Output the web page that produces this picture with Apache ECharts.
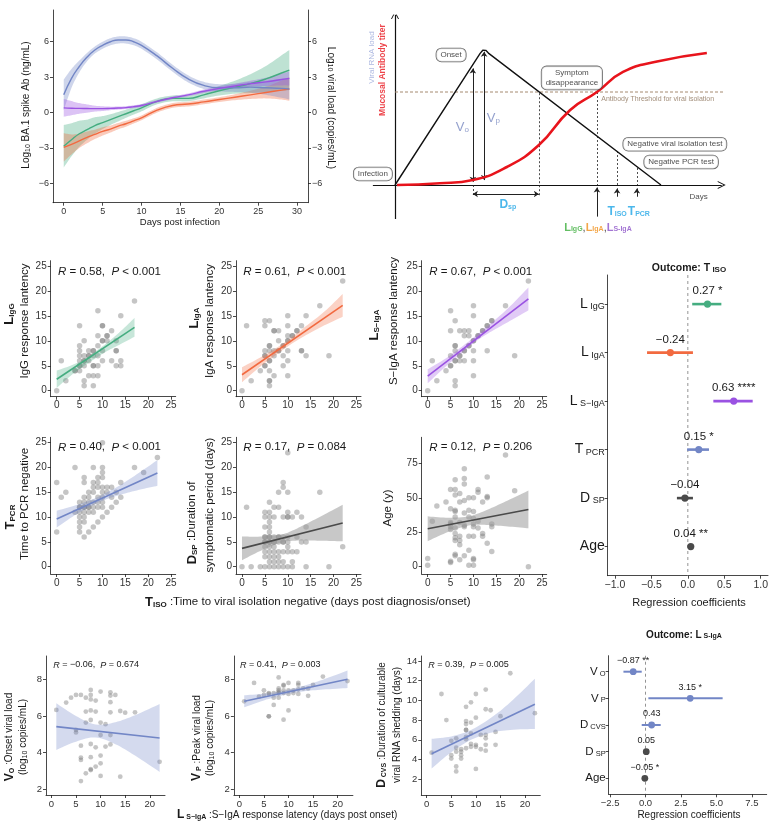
<!DOCTYPE html>
<html>
<head>
<meta charset="utf-8">
<title>Figure</title>
<script src="https://cdn.jsdelivr.net/npm/echarts@6.0.0/dist/echarts.min.js"></script>
<style>
  html, body { margin: 0; padding: 0; background: #fff; }
  #chart { width: 771px; height: 824px; }
</style>
</head>
<body>
<div id="chart"></div>
<script>
var FONT = '"Liberation Sans", Arial, Helvetica, sans-serif';

// ---- A: smoothed trajectories (days post infection)
var daysA   = [0,1,2,3,4,5,6,7,8,9,10,12,14,16,18,20,22,24,26,28,29];
var blueA   = [1.5,2.9,3.9,4.7,5.3,5.7,6.0,6.15,6.15,6.0,5.7,4.8,3.75,2.85,2.3,2.1,2.1,2.15,2.1,2.05,2.0];
var blueSE  = [1.3,0.8,0.5,0.35,0.3,0.3,0.3,0.3,0.3,0.3,0.3,0.3,0.3,0.3,0.3,0.3,0.35,0.45,0.6,0.8,0.9];
var purpA   = [0.4,0.37,0.35,0.34,0.33,0.33,0.35,0.38,0.42,0.5,0.6,0.95,1.25,1.5,1.8,2.05,2.25,2.45,2.6,2.8,2.9];
var purpSE  = [0.75,0.6,0.45,0.35,0.25,0.2,0.15,0.13,0.12,0.12,0.12,0.12,0.12,0.12,0.15,0.17,0.2,0.25,0.35,0.5,0.6];
var greenA  = [-2.85,-2.3,-1.8,-1.45,-1.1,-0.85,-0.6,-0.35,-0.1,0.15,0.4,0.95,1.2,1.2,1.5,1.85,2.15,2.45,2.85,3.35,3.6];
var greenSE = [1.8,1.4,1.1,0.85,0.7,0.55,0.45,0.4,0.35,0.32,0.3,0.25,0.25,0.25,0.3,0.4,0.55,0.8,1.1,1.5,1.7];
var orngA   = [-2.95,-2.7,-2.4,-2.1,-1.85,-1.6,-1.4,-1.15,-0.95,-0.7,-0.45,0.2,0.6,0.72,0.9,1.1,1.3,1.5,1.7,1.9,2.0];
var orngSE  = [1.2,0.85,0.6,0.5,0.4,0.35,0.3,0.27,0.25,0.22,0.2,0.2,0.2,0.2,0.2,0.2,0.25,0.35,0.5,0.8,1.0];

// ---- B: schematic (arbitrary units)
var bViral     = [[0,0],[25.8,77.4],[26.6,79.3],[27.5,79.2],[28.3,77.6],[80.6,0]];
var bAntibody  = [[0.6,0],[13.6,1.0],[23.6,3.0],[33.9,10.6],[43.6,23.5],[53,44],[61.2,54.7],[69.1,66.5],[79.4,72.6],[94.5,77.6]];
var bThreshold = 54.7;
var bGuides = [[[23.6,0],[23.6,-7]],[[43.6,54],[43.6,-7]],[[61.2,54.7],[61.2,0]],[[67.3,20],[67.3,0]],[[73.3,10],[73.3,0]]];
var bSpans  = [[[23.6,1.9],[23.6,68.6]],[[27,2.9],[27,78.4]],[[23.6,-5.3],[43.6,-5.3]]];
var bArrows = [[[61.2,-18.6],[61.2,-1.5]],[[67.3,-6.9],[67.3,-2]],[[73.3,-6.9],[73.3,-2]]];

// ---- C: scatter panels vs T_ISO
var ptsIgG = [[0,0],[1,6],[2,2],[4,4],[4,4],[5,13],[5,9],[5,8],[5,7],[5,6],[5,5],[5,5],[5,4],[6,10],[6,7],[6,6],[6,6],[6,5],[6,2],[6,1],
  [7,8],[7,7],[7,7],[7,6],[7,3],[8,8],[8,8],[8,7],[8,5],[8,5],[8,3],[8,1],[9,16],[9,11],[9,9],[9,7],[9,5],[9,3],
  [10,13],[10,13],[10,10],[10,10],[10,8],[10,6],[11,11],[11,11],[11,10],[12,12],[12,6],[13,10],[13,8],[13,8],[13,5],[14,15],[14,6],[14,5],[17,18]];
var ptsIgA = [[0,0],[1,13],[2,2],[4,4],[5,14],[5,13],[5,8],[5,7],[5,7],[5,5],[5,5],[6,14],[6,9],[6,9],[6,8],[6,6],[6,6],[6,4],[6,2],[6,2],[6,1],
  [7,12],[7,12],[7,8],[7,7],[7,3],[8,12],[8,10],[8,8],[8,8],[9,9],[9,9],[9,7],[9,5],[10,15],[10,13],[10,11],[10,10],[10,10],[10,8],[10,6],[10,3],
  [11,11],[11,11],[12,12],[12,12],[13,13],[13,8],[13,8],[14,15],[14,7],[17,17],[19,7],[22,22]];
var ptsSIgA = [[0,0],[1,6],[2,2],[4,4],[5,16],[5,12],[5,7],[5,5],[5,5],[6,14],[6,9],[6,9],[6,8],[6,6],[6,6],[6,2],[6,1],[7,12],[7,7],[7,7],[7,6],
  [8,12],[8,11],[8,8],[8,8],[8,6],[9,12],[9,11],[9,9],[9,9],[10,17],[10,15],[10,10],[10,10],[10,8],[10,6],[10,3],[11,11],[11,11],[12,12],[12,12],
  [13,13],[13,13],[13,8],[14,14],[14,14],[17,17],[19,7],[22,22]];
var ptsPCR = [[0,7],[0,17],[1,14],[2,15],[4,11],[4,20],[5,7],[5,8],[5,9],[5,10],[5,11],[5,12],[5,12],[5,13],
  [6,6],[6,9],[6,10],[6,11],[6,12],[6,12],[6,13],[6,14],[6,17],[6,18],[7,7],[7,11],[7,12],[7,12],[7,13],[7,14],[7,15],
  [8,8],[8,11],[8,12],[8,13],[8,15],[8,16],[8,17],[8,20],[9,9],[9,12],[9,13],[9,14],[9,16],[9,17],[9,18],
  [10,10],[10,12],[10,13],[10,14],[10,15],[10,16],[10,18],[10,19],[10,20],[10,25],[11,11],[11,15],[11,16],
  [12,12],[12,14],[12,16],[13,13],[13,15],[14,14],[14,17],[17,20],[19,19],[22,22]];
var ptsDSP = [[0,0],[1,12],[2,0],[4,0],[5,0],[5,2],[5,3],[5,4],[5,5],[5,5],[5,6],[5,6],[5,8],[5,10],[5,11],
  [6,0],[6,1],[6,2],[6,3],[6,4],[6,5],[6,5],[6,6],[6,6],[6,7],[6,8],[6,9],[6,10],[6,11],[6,13],
  [7,0],[7,1],[7,2],[7,3],[7,4],[7,5],[7,5],[7,6],[7,10],[7,12],[8,0],[8,1],[8,2],[8,3],[8,5],[8,6],[8,6],[8,12],[8,15],
  [9,0],[9,1],[9,3],[9,5],[9,5],[9,6],[9,10],[9,16],[9,17],[10,0],[10,3],[10,4],[10,5],[10,6],[10,10],[10,10],[10,11],[10,15],[10,23],
  [11,0],[11,1],[11,3],[11,10],[12,3],[12,6],[12,11],[13,5],[13,10],[14,0],[14,5],[14,8],[17,15],[19,0],[22,4]];
var ptsAge = [[0,6],[0,1],[1,33],[2,44],[4,47],[5,56],[5,42],[5,32],[5,31],[5,29],[5,27],[5,4],[5,3],
  [6,63],[6,56],[6,52],[6,41],[6,40],[6,36],[6,28],[6,24],[6,21],[6,19],[6,9],[6,8],
  [7,53],[7,47],[7,32],[7,22],[7,19],[7,16],[7,5],[8,71],[8,64],[8,60],[8,48],[8,39],[8,30],[8,29],[8,8],
  [9,50],[9,41],[9,36],[9,22],[9,12],[9,1],[10,50],[10,40],[10,35],[10,31],[10,29],[10,22],[10,6],[10,5],[10,1],
  [11,56],[11,54],[11,33],[11,28],[12,47],[12,24],[12,22],[13,65],[13,51],[13,50],[13,17],[14,31],[14,29],[14,11],
  [17,81],[19,55],[22,0]];

// linear fits and 95% bands
var fitIgG  = {x:[0,17], y:[2.3,12.7], bx:[0,3,6,8.5,11,14,17], lo:[0.55,2.95,5.0,6.5,7.95,9.35,10.8], hi:[4.05,5.0,6.3,7.9,9.6,11.95,14.6]};
var fitIgA  = {x:[0,22], y:[3.2,17.1], bx:[0,4,8,11,14,18,22], lo:[1.7,4.85,7.55,9.5,11.15,13.1,14.8], hi:[4.7,6.65,8.85,10.8,12.95,15.85,19.4]};
var fitSIgA = {x:[0,22], y:[2.9,18.4], bx:[0,4,8,11,14,18,22], lo:[1.5,4.9,8.0,10.2,11.92,14.0,16.1], hi:[4.3,6.5,9.2,11.4,13.62,16.9,20.7]};
var fitPCR  = {x:[0,22], y:[9.6,18.9], bx:[0,4,8,11,14,18,22], lo:[7.9,10.4,12.45,13.65,14.52,15.5,16.3], hi:[11.3,12.35,13.65,15.0,16.52,18.95,21.5]};
var fitDSP  = {x:[0,22], y:[3.7,8.8], bx:[0,4,8.5,11,14,18,22], lo:[1.3,3.19,4.87,5.22,5.28,5.23,5.12], hi:[6.1,6.07,6.47,7.28,8.62,10.53,12.48]};
var fitAge  = {x:[0,22], y:[27.5,41.5], bx:[0,4,8.5,11,14,18,22], lo:[18.5,24.55,29.6,30.4,30.1,29.05,27.8], hi:[36.5,35.55,36.2,38.6,42.7,48.85,55.2]};

var corrC = ['0.58','0.61','0.67','0.40','0.17','0.12'];
var pvalC = ['< 0.001','< 0.001','< 0.001','< 0.001','= 0.084','= 0.206'];

// C forest: outcome T_ISO
var termC = ['L','L','L','T','D','Age'];
var subC  = ['IgG','IgA','S\u2212IgA','PCR','SP',''];
var estC  = [0.27,-0.24,0.63,0.15,-0.04,0.04];
var loC   = [0.06,-0.56,0.35,-0.01,-0.15,0.03];
var hiC   = [0.46,0.07,0.89,0.29,0.07,0.05];
var sigC  = ['*','','****','*','','**'];

// ---- D: scatter panels vs L_S-IgA
var ptsVO = [[1,6.33],[3,6.73],[4,7.0],[5,7.15],[5,5.24],[5,5.1],[6,7.15],[6,4.38],[6,3.73],[6,3.6],[6,2.45],
  [7,7.0],[7,6.24],[7,5.64],[7,2.87],[8,7.42],[8,7.15],[8,6.9],[8,6.3],[8,5.78],[8,4.47],[8,3.75],[8,3.1],[8,3.05],
  [9,6.84],[9,6.24],[9,4.29],[9,3.24],[10,7.33],[10,5.64],[10,4.96],[10,3.84],[10,3.42],[10,2.73],[11,5.55],[11,4.33],
  [12,7.29],[12,7.11],[12,6.75],[12,6.2],[12,4.96],[12,4.45],[13,7.15],[14,6.27],[14,2.69],[15,6.18],[17,6.2],[22,3.5]];
var ptsVP = [[1,6.8],[3,7.8],[4,7.05],[5,7.15],[5,7.4],[6,7.25],[6,7.2],[6,5.98],[6,5.98],[7,7.25],[7,7.0],[7,6.6],
  [8,8.1],[8,7.5],[8,7.4],[8,7.25],[8,7.0],[8,7.3],[9,7.7],[9,7.65],[9,7.4],[9,7.25],[9,5.8],[10,7.8],[10,7.4],[10,7.2],[10,6.3],
  [11,7.4],[11,7.25],[12,7.8],[12,7.7],[12,7.45],[12,7.2],[13,7.5],[14,7.5],[14,7.1],[15,7.7],[17,8.15],[22,7.9]];
var ptsCVS = [[1,4.7],[3,10.65],[4,8.0],[5,5.9],[5,4.45],[5,4.1],[6,6.15],[6,5.2],[6,4.8],[6,3.3],[6,2.8],
  [7,5.05],[7,4.8],[7,4.45],[7,4.1],[8,9.35],[8,7.9],[8,7.6],[8,7.0],[8,7.0],[8,6.3],[8,6.05],[8,5.15],
  [9,9.8],[9,7.75],[9,6.65],[9,5.6],[9,5.3],[10,10.65],[10,8.25],[10,5.5],[10,5.3],[10,3.05],[11,6.5],[11,5.05],
  [12,11.1],[12,9.1],[12,6.5],[12,6.15],[12,5.5],[12,4.9],[13,9.0],[14,6.8],[14,5.5],[15,8.4],[17,12.75],[22,8.7]];
var fitVO  = {x:[1,22], y:[5.42,4.8], bx:[1,5,9,13,17,22], lo:[4.15,4.6,4.83,4.46,3.84,2.95], hi:[6.69,6.0,5.53,5.66,6.04,6.65]};
var fitVP  = {x:[1,22], y:[6.8,8.0], bx:[1,5,9,13,17,22], lo:[6.47,6.85,7.14,7.34,7.44,7.52], hi:[7.13,7.21,7.38,7.64,7.98,8.48]};
var fitCVS = {x:[1,22], y:[4.6,9.6], bx:[1,5,9,13,17,22], lo:[3.1,4.75,6.0,6.71,7.01,7.1], hi:[6.1,6.35,7.0,8.21,9.81,12.2]};
var corrD = ['\u22120.06','0.41','0.39'];
var pvalD = ['= 0.674','= 0.003','= 0.005'];

// D forest: outcome L_S-IgA
var termD = ['V','V','D','D','Age'];
var subD  = ['O','P','CVS','SP',''];
var estD  = [-0.87,3.15,0.43,0.05,-0.05];
var loD   = [-1.56,0.2,-0.27,0.0,-0.09];
var hiD   = [-0.27,5.44,1.07,0.1,-0.01];
var sigD  = ['**','*','','','*'];

var GREEN = '#45ad80', ORANGE = '#f26a40', PURPLE = '#9a52e2', BLUE = '#7286c6', DARK = '#4a4a4a';

function minus(v) { return String(v).replace('-', '\u2212'); }
function fmt1(v) { return minus(Number(v).toFixed(1)); }

function axis(gi, min, max, ticks, fs, fmt, extra) {
  var a = {
    type: 'value', gridIndex: gi, min: min, max: max,
    axisLine: {show: true, onZero: false, lineStyle: {color: '#1a1a1a', width: 0.8}},
    axisTick: {show: true, length: 3, customValues: ticks, lineStyle: {color: '#1a1a1a', width: 0.8}},
    axisLabel: {customValues: ticks, fontSize: fs, color: '#333', fontFamily: FONT, margin: 4, formatter: fmt || minus},
    splitLine: {show: false}
  };
  return Object.assign(a, extra || {});
}
function hidden(gi, min, max) { return {type: 'value', gridIndex: gi, min: min, max: max, show: false}; }

// Catmull-Rom through pixel points, only to draw the band outline smoothly
function spline(pts) {
  var out = [], n = pts.length, steps = 8;
  for (var i = 0; i < n - 1; i++) {
    var p0 = pts[Math.max(i - 1, 0)], p1 = pts[i], p2 = pts[i + 1], p3 = pts[Math.min(i + 2, n - 1)];
    for (var s = 0; s < steps; s++) {
      var t = s / steps, t2 = t * t, t3 = t2 * t;
      out.push([0, 1].map(function (k) {
        return 0.5 * (2 * p1[k] + (-p0[k] + p2[k]) * t + (2 * p0[k] - 5 * p1[k] + 4 * p2[k] - p3[k]) * t2 + (-p0[k] + 3 * p1[k] - 3 * p2[k] + p3[k]) * t3);
      }));
    }
  }
  out.push(pts[n - 1]);
  return out;
}

function band(gi, xs, lo, hi, color, op) {
  return {
    type: 'custom', xAxisIndex: gi, yAxisIndex: gi, silent: true, z: 2,
    data: [[xs[0], lo[0]]],
    renderItem: function (params, api) {
      var up = xs.map(function (x, i) { return api.coord([x, hi[i]]); });
      var dn = xs.map(function (x, i) { return api.coord([x, lo[i]]); });
      var pts = spline(up).concat(spline(dn).reverse());
      return {type: 'polygon', shape: {points: pts}, style: {fill: color, opacity: op}};
    }
  };
}

function trajectory(mean, se, color) {
  var lo = mean.map(function (m, i) { return m - se[i]; });
  var hi = mean.map(function (m, i) { return m + se[i]; });
  return [
    band(0, daysA, lo, hi, color, 0.35),
    {type: 'line', xAxisIndex: 0, yAxisIndex: 0, smooth: true, symbol: 'none', silent: true, z: 4,
     lineStyle: {color: color, width: 1.4}, data: daysA.map(function (d, i) { return [d, mean[i]]; })}
  ];
}

function scatterPanel(gi, pts, fit, color, bandColor, bandOp, size) {
  return [
    {type: 'scatter', xAxisIndex: gi, yAxisIndex: gi, data: pts, symbolSize: size, silent: true, z: 1,
     itemStyle: {color: '#757575', opacity: 0.42}},
    band(gi, fit.bx, fit.lo, fit.hi, bandColor, bandOp),
    {type: 'line', xAxisIndex: gi, yAxisIndex: gi, symbol: 'none', silent: true, z: 4,
     lineStyle: {color: color, width: 1.6}, data: [[fit.x[0], fit.y[0]], [fit.x[1], fit.y[1]]]}
  ];
}

function forest(gi, est, lo, hi, sig, cols, o) {
  return {
    type: 'custom', xAxisIndex: gi, yAxisIndex: gi, silent: true, z: 5,
    data: est.map(function (e, i) { return [e, i, lo[i], hi[i]]; }),
    encode: {x: [0, 2, 3], y: 1},
    renderItem: function (params, api) {
      var i = params.dataIndex;
      var p = api.coord([api.value(0), api.value(1)]);
      var a = api.coord([api.value(2), api.value(1)]);
      var b = api.coord([api.value(3), api.value(1)]);
      var txt = minus(est[i].toFixed(2)) + (sig[i] ? ' ' + sig[i] : '');
      return {type: 'group', children: [
        {type: 'line', shape: {x1: a[0], y1: a[1], x2: b[0], y2: b[1]}, style: {stroke: cols[i], lineWidth: o.lw}},
        {type: 'circle', shape: {cx: p[0], cy: p[1], r: o.r}, style: {fill: cols[i]}},
        {type: 'text', x: p[0], y: p[1] - o.dy, style: {text: txt, fill: '#1a1a1a', fontSize: o.fs, fontFamily: FONT, align: 'center', verticalAlign: 'middle'}}
      ]};
    }
  };
}

function zeroLine(gi, y0, y1) {
  return {type: 'line', xAxisIndex: gi, yAxisIndex: gi, symbol: 'none', silent: true, z: 3,
    lineStyle: {color: '#888', width: 0.9, type: [3, 3]}, data: [[0, y0], [0, y1]]};
}

// ---- graphic text helper (zrender style)
function richSet(fs, c) {
  return {
    b:  {fontSize: Math.round(fs * 1.15), fontWeight: 'bold', fill: c, fontFamily: FONT},
    bs: {fontSize: Math.round(fs * 0.72), fontWeight: 'bold', fill: c, fontFamily: FONT, verticalAlign: 'bottom'},
    s:  {fontSize: Math.round(fs * 0.72), fill: c, fontFamily: FONT, verticalAlign: 'bottom'},
    i:  {fontSize: fs, fontStyle: 'italic', fill: c, fontFamily: FONT},
    n:  {fontSize: fs, fill: c, fontFamily: FONT}
  };
}
function T(x, y, text, fs, o) {
  o = o || {};
  var c = o.color || '#1a1a1a';
  return {type: 'text', x: x, y: y, rotation: o.rot || 0, silent: true, z: 100,
    style: {text: text, fill: c, fontSize: fs, fontFamily: FONT, fontWeight: o.bold ? 'bold' : 'normal',
            align: o.align || 'center', verticalAlign: 'middle', rich: richSet(fs, c)}};
}
var UP = Math.PI / 2;

var grids = [
  {left: 53, top: 10, width: 255, height: 192.7},
  {left: 362, top: 15, width: 379.5, height: 221},
  {left: 50.7, top: 260.7, width: 125, height: 136},
  {left: 236, top: 260.7, width: 125, height: 136},
  {left: 421.7, top: 260.7, width: 125, height: 136},
  {left: 50.7, top: 437.3, width: 125, height: 136.7},
  {left: 236, top: 437.3, width: 125, height: 136.7},
  {left: 421.7, top: 437.3, width: 125, height: 136.7},
  {left: 607.7, top: 275, width: 163, height: 300.7},
  {left: 46, top: 656, width: 119, height: 139},
  {left: 233.9, top: 656, width: 119, height: 139},
  {left: 421.3, top: 656, width: 119, height: 139},
  {left: 608.7, top: 655.7, width: 158, height: 138.6}
];

var tC = [0,5,10,15,20,25], tD = [0,5,10,15,20];
var xAxes = [
  axis(0, -1.38, 31.4, [0,5,10,15,20,25,30], 9),
  hidden(1, -10, 105),
  axis(2, -1.31, 26, tC, 10), axis(3, -1.31, 26, tC, 10), axis(4, -1.31, 26, tC, 10),
  axis(5, -1.31, 26, tC, 10), axis(6, -1.31, 26, tC, 10), axis(7, -1.31, 26, tC, 10),
  axis(8, -1.1, 1.1, [-1,-0.5,0,0.5,1], 10.5, fmt1),
  axis(9, -1.1, 23.1, tD, 9.5), axis(10, -1.1, 23.1, tD, 9.5), axis(11, -1.1, 23.1, tD, 9.5),
  axis(12, -2.6, 8.55, [-2.5,0,2.5,5,7.5], 9.5, fmt1)
];

var forestCY = axis(8, -0.6, 5.6, [0,1,2,3,4,5], 14, function (v) {
  return '{l|' + termC[v] + '}' + (subC[v] ? '{s| ' + subC[v] + '}' : '');
}, {inverse: true});
forestCY.axisLabel.rich = {l: {fontSize: 14, color: '#1a1a1a', fontFamily: FONT}, s: {fontSize: 9, color: '#1a1a1a', fontFamily: FONT, verticalAlign: 'bottom'}};
forestCY.axisLabel.margin = 3;
var forestDY = axis(12, -0.6, 4.6, [0,1,2,3,4], 11, function (v) {
  return '{l|' + termD[v] + '}' + (subD[v] ? '{s| ' + subD[v] + '}' : '');
}, {inverse: true});
forestDY.axisLabel.rich = {l: {fontSize: 11.5, color: '#1a1a1a', fontFamily: FONT}, s: {fontSize: 7.5, color: '#1a1a1a', fontFamily: FONT, verticalAlign: 'bottom'}};
forestDY.axisLabel.margin = 3;

var yAxes = [
  axis(0, -7.64, 8.69, [-6,-3,0,3,6], 9),
  hidden(1, -30, 100),
  axis(2, -1.2, 26.05, tC, 10), axis(3, -1.2, 26.05, tC, 10), axis(4, -1.2, 26.05, tC, 10),
  axis(5, -1.47, 26.09, tC, 10), axis(6, -1.47, 26.09, tC, 10),
  axis(7, -5.3, 93.85, [0,25,50,75], 10),
  forestCY,
  axis(9, 1.69, 9.27, [2,4,6,8], 9.5), axis(10, 1.69, 9.27, [2,4,6,8], 9.5),
  axis(11, 0.41, 14.5, [2,4,6,8,10,12,14], 9.5),
  forestDY,
  axis(0, -7.64, 8.69, [-6,-3,0,3,6], 9, null, {position: 'right'})
];

// ---- B schematic series
function bLab(x, y, text, lab) {
  return {value: [x, y], label: Object.assign({show: true, position: 'inside', formatter: text, fontFamily: FONT, color: '#1a1a1a'}, lab)};
}
var boxStyle = {fontSize: 8, lineHeight: 10, backgroundColor: '#fff', borderColor: '#444', borderWidth: 0.8, borderRadius: 5, padding: [2, 4, 1, 4]};
var bRich = {
  v: {fontSize: 13, color: '#7888c0', fontFamily: FONT},
  vs: {fontSize: 8, color: '#7888c0', fontFamily: FONT, verticalAlign: 'bottom'},
  d: {fontSize: 12, color: '#1ea5e6', fontWeight: 'bold', fontFamily: FONT},
  ds: {fontSize: 7, color: '#1ea5e6', fontWeight: 'bold', fontFamily: FONT, verticalAlign: 'bottom'},
  g: {fontSize: 11, color: '#3cae3c', fontWeight: 'bold', fontFamily: FONT},
  gs: {fontSize: 7, color: '#3cae3c', fontWeight: 'bold', fontFamily: FONT, verticalAlign: 'bottom'},
  o: {fontSize: 11, color: '#f0901c', fontWeight: 'bold', fontFamily: FONT},
  os: {fontSize: 7, color: '#f0901c', fontWeight: 'bold', fontFamily: FONT, verticalAlign: 'bottom'},
  p: {fontSize: 11, color: '#8c52c8', fontWeight: 'bold', fontFamily: FONT},
  ps: {fontSize: 7, color: '#8c52c8', fontWeight: 'bold', fontFamily: FONT, verticalAlign: 'bottom'},
  k: {fontSize: 11, color: '#1a1a1a', fontFamily: FONT}
};
var chevron = 'path://M0,10 L5,0 L10,10 L8.8,10 L5,2.6 L1.2,10 Z';

var seriesB = [
  {type: 'lines', coordinateSystem: 'cartesian2d', xAxisIndex: 1, yAxisIndex: 1, silent: true, z: 3,
   symbol: ['none', chevron], symbolSize: [10, 8], lineStyle: {color: '#111', width: 1.2, opacity: 1},
   data: [{coords: [[0,-20],[0,100]]}, {coords: [[-6.7,0],[99,0]]}]},
  {type: 'line', xAxisIndex: 1, yAxisIndex: 1, symbol: 'none', silent: true, z: 3,
   lineStyle: {color: '#a58a70', width: 1, type: [3, 2]}, data: [[0, bThreshold], [100, bThreshold]]},
  {type: 'line', xAxisIndex: 1, yAxisIndex: 1, symbol: 'none', silent: true, z: 4,
   lineStyle: {color: '#111', width: 1.4}, data: bViral},
  {type: 'line', xAxisIndex: 1, yAxisIndex: 1, symbol: 'none', smooth: true, silent: true, z: 4,
   lineStyle: {color: '#e8141c', width: 2.6}, data: bAntibody},
  {type: 'lines', coordinateSystem: 'cartesian2d', xAxisIndex: 1, yAxisIndex: 1, silent: true, z: 3,
   symbol: 'none', lineStyle: {color: '#222', width: 0.8, type: [2, 2], opacity: 1},
   data: bGuides.map(function (c) { return {coords: c}; })},
  {type: 'lines', coordinateSystem: 'cartesian2d', xAxisIndex: 1, yAxisIndex: 1, silent: true, z: 4,
   symbol: ['arrow', 'arrow'], symbolSize: 5, lineStyle: {color: '#222', width: 1, opacity: 1},
   data: bSpans.map(function (c) { return {coords: c}; })},
  {type: 'lines', coordinateSystem: 'cartesian2d', xAxisIndex: 1, yAxisIndex: 1, silent: true, z: 4,
   symbol: ['none', 'arrow'], symbolSize: 5, lineStyle: {color: '#222', width: 1, opacity: 1},
   data: bArrows.map(function (c) { return {coords: c}; })},
  {type: 'scatter', xAxisIndex: 1, yAxisIndex: 1, symbolSize: 0, silent: true, z: 10,
   data: [
     bLab(17, 76.5, 'Onset', boxStyle),
     bLab(-6.7, 6.5, 'Infection', boxStyle),
     bLab(53.6, 63, 'Symptom\ndisappearance', Object.assign({}, boxStyle, {align: 'center'})),
     bLab(84.8, 24, 'Negative viral isolation test', boxStyle),
     bLab(86.7, 13.5, 'Negative PCR test', boxStyle),
     bLab(62.5, 50.4, 'Antibody Threshold for viral isolation', {position: 'right', distance: 0, fontSize: 7, color: '#8a7058'}),
     bLab(20.4, 34, '{v|V}{vs|o}', {rich: bRich}),
     bLab(29.8, 39.4, '{v|V}{vs|p}', {rich: bRich}),
     bLab(34.2, -11.8, '{d|D}{ds|sp}', {rich: bRich}),
     bLab(67.3, -15.6, '{d|T}{ds|ISO}', {rich: bRich}),
     bLab(73.9, -15.6, '{d|T}{ds|PCR}', {rich: bRich}),
     bLab(61.5, -25, '{g|L}{gs|IgG}{k|,}{o|L}{os|IgA}{k|,}{p|L}{ps|S-IgA}', {rich: bRich}),
     bLab(92, -7.2, 'Days', {fontSize: 8}),
     bLab(-7.1, 75, 'Viral RNA load', {rotate: 90, fontSize: 8, color: '#97a6da'}),
     bLab(-3.6, 67.6, 'Mucosal Antibody titer', {rotate: 90, fontSize: 8.5, color: '#e8141c', fontWeight: 'bold'})
   ]}
];

var series = []
  .concat(trajectory(greenA, greenSE, GREEN))
  .concat(trajectory(orngA, orngSE, ORANGE))
  .concat(trajectory(blueA, blueSE, BLUE))
  .concat(trajectory(purpA, purpSE, PURPLE))
  .concat(seriesB)
  .concat(scatterPanel(2, ptsIgG, fitIgG, GREEN, GREEN, 0.3, 5.5))
  .concat(scatterPanel(3, ptsIgA, fitIgA, ORANGE, ORANGE, 0.3, 5.5))
  .concat(scatterPanel(4, ptsSIgA, fitSIgA, PURPLE, PURPLE, 0.3, 5.5))
  .concat(scatterPanel(5, ptsPCR, fitPCR, BLUE, BLUE, 0.3, 5.5))
  .concat(scatterPanel(6, ptsDSP, fitDSP, DARK, '#9a9a9a', 0.55, 5.5))
  .concat(scatterPanel(7, ptsAge, fitAge, DARK, '#9a9a9a', 0.55, 5.5))
  .concat([zeroLine(8, -0.6, 5.6),
           forest(8, estC, loC, hiC, sigC, [GREEN, ORANGE, PURPLE, BLUE, DARK, DARK], {lw: 2.6, r: 3.6, dy: 13, fs: 11.5})])
  .concat(scatterPanel(9, ptsVO, fitVO, BLUE, BLUE, 0.3, 4.8))
  .concat(scatterPanel(10, ptsVP, fitVP, BLUE, BLUE, 0.3, 4.8))
  .concat(scatterPanel(11, ptsCVS, fitCVS, BLUE, BLUE, 0.3, 4.8))
  .concat([zeroLine(12, -0.6, 4.6),
           forest(12, estD, loD, hiD, sigD, [BLUE, BLUE, BLUE, DARK, DARK], {lw: 2, r: 3.4, dy: 11, fs: 9})]);

// ---- text: axis titles, stats, panel titles
var texts = [
  T(26.7, 105, 'Log{s|10} BA.1 spike Ab (ng/mL)', 10, {rot: UP}),
  T(331, 108, 'Log{s|10} viral load (copies/mL)', 10, {rot: -UP}),
  T(180, 222, 'Days post infection', 9.5),

  T(9.5, 314, '{b|L}{bs|IgG}', 11, {rot: UP}),
  T(25, 321, 'IgG response lantency', 11.5, {rot: UP}),
  T(194, 318, '{b|L}{bs|IgA}', 11, {rot: UP}),
  T(209.5, 321, 'IgA response lantency', 11.5, {rot: UP}),
  T(374, 325, '{b|L}{bs|S\u2212IgA}', 11, {rot: UP}),
  T(393.5, 321, 'S\u2212IgA response lantency', 11.5, {rot: UP}),
  T(10, 517, '{b|T}{bs|PCR}', 11, {rot: UP}),
  T(24.5, 504, 'Time to PCR negative', 11.5, {rot: UP}),
  T(192, 523, '{b|D}{bs|SP} :Duration of', 11.5, {rot: UP}),
  T(209.5, 505, 'symptomatic period (days)', 11.5, {rot: UP}),
  T(387.5, 508, 'Age (y)', 11.5, {rot: UP}),
  T(145, 602, '{b|T}{bs|ISO} :Time to viral isolation negative (days post diagnosis/onset)', 11.5, {align: 'left'}),

  T(689, 268, 'Outcome: T{bs| ISO}', 10.5, {bold: true}),
  T(689, 603, 'Regression coefficients', 11),

  T(9.5, 737, '{b|V}{bs|O} :Onset viral load', 10, {rot: UP}),
  T(23.5, 737, '(log{s|10} copies/mL)', 10, {rot: UP}),
  T(197, 738, '{b|V}{bs| P} :Peak viral load', 10, {rot: UP}),
  T(210.5, 738, '(log{s|10} copies/mL)', 10, {rot: UP}),
  T(382, 725, '{b|D}{bs| CVS} :Duration of culturable', 10, {rot: UP}),
  T(397.5, 725, 'viral RNA shedding (days)', 10, {rot: UP}),
  T(177, 815, '{b|L}{bs| S\u2212IgA} :S\u2212IgA response latency (days post onset)', 10, {align: 'left'}),

  T(684, 635, 'Outcome: L{bs| S-IgA}', 10, {bold: true}),
  T(689, 815, 'Regression coefficients', 10)
];
var statPosC = [[58, 271.7], [243.3, 271.7], [429.3, 271.7], [58, 447.3], [243.3, 447.3], [429.3, 447.3]];
corrC.forEach(function (r, i) {
  texts.push(T(statPosC[i][0], statPosC[i][1], '{i|R} = ' + r + ',  {i|P} ' + pvalC[i], 11.5, {align: 'left'}));
});
var statPosD = [[53.3, 665], [240, 665], [428.3, 665]];
corrD.forEach(function (r, i) {
  texts.push(T(statPosD[i][0], statPosD[i][1], '{i|R} = ' + r + ',  {i|P} ' + pvalD[i], 9, {align: 'left'}));
});

var chart = echarts.init(document.getElementById('chart'));
chart.setOption({
  animation: false,
  backgroundColor: '#fff',
  textStyle: {fontFamily: FONT},
  grid: grids,
  xAxis: xAxes,
  yAxis: yAxes,
  series: series,
  graphic: {elements: texts}
});
</script>
</body>
</html>
